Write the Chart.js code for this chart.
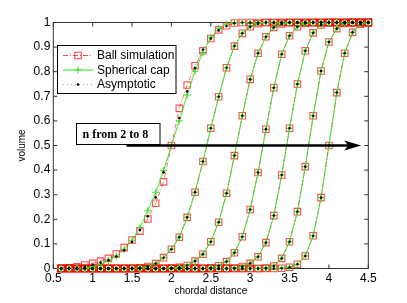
<!DOCTYPE html>
<html>
<head>
<meta charset="utf-8">
<script src="https://cdn.jsdelivr.net/npm/chart.js@4.4.0/dist/chart.umd.min.js"></script>
<style>
  html, body { margin: 0; padding: 0; background: #fff; }
</style>
</head>
<body>
<canvas id="chart" width="407" height="303"></canvas>
<script>
// chordal distance samples
const chordal = [0.6,0.7,0.8,0.9,1.0,1.1,1.2,1.3,1.4,1.5,1.6,1.7,1.8,1.9,2.0,2.1,2.2,2.3,2.4,2.5,
                 2.6,2.7,2.8,2.9,3.0,3.1,3.2,3.3,3.4,3.5,3.6,3.7,3.8,3.9,4.0,4.1,4.2,4.3,4.4,4.5];

// n = 2 : the three models differ a bit
const ball2 = [0.001,0.003,0.007,0.014,0.021,0.03,0.041,0.059,0.085,0.116,0.152,0.201,0.265,0.352,0.5,0.651,0.746,0.824,0.885,0.935,
               0.97,0.987,0.998,1,1,1,1,1,1,1,1,1,1,1,1,1,1,1,1,1];
const cap2  = [0,0,0,0.002,0.007,0.018,0.032,0.05,0.078,0.115,0.167,0.235,0.31,0.398,0.5,0.6,0.705,0.802,0.878,0.94,
               0.976,0.994,1,1,1,1,1,1,1,1,1,1,1,1,1,1,1,1,1,1];
const asym2 = [0,0.001,0.003,0.008,0.015,0.024,0.034,0.049,0.074,0.108,0.156,0.212,0.289,0.391,0.5,0.612,0.72,0.815,0.89,0.935,
               0.968,0.986,0.997,1,1,1,1,1,1,1,1,1,1,1,1,1,1,1,1,1];

// n = 3..8 : the three models sit on top of each other
const vol3 = [0,0,0,0,0,0,0,0,0,0,0.003,0.008,0.02,0.044,0.078,0.127,0.208,0.31,0.435,0.57,
              0.698,0.816,0.904,0.956,0.983,0.995,1,1,1,1,1,1,1,1,1,1,1,1,1,1];
const vol4 = [0,0,0,0,0,0,0,0,0,0,0,0,0,0,0.002,0.005,0.012,0.03,0.058,0.109,
              0.188,0.306,0.459,0.621,0.769,0.875,0.942,0.98,0.994,1,1,1,1,1,1,1,1,1,1,1];
const vol5 = [0,0,0,0,0,0,0,0,0,0,0,0,0,0,0,0,0,0,0,0.003,
              0.011,0.028,0.064,0.129,0.24,0.39,0.566,0.735,0.871,0.946,0.983,0.996,1,1,1,1,1,1,1,1];
const vol6 = [0,0,0,0,0,0,0,0,0,0,0,0,0,0,0,0,0,0,0,0,
              0,0,0.002,0.008,0.021,0.048,0.105,0.215,0.38,0.57,0.75,0.885,0.958,0.99,1,1,1,1,1,1];
const vol7 = [0,0,0,0,0,0,0,0,0,0,0,0,0,0,0,0,0,0,0,0,
              0,0,0,0,0,0,0.002,0.01,0.041,0.109,0.231,0.414,0.621,0.803,0.921,0.975,0.996,1,1,1];
const vol8 = [0,0,0,0,0,0,0,0,0,0,0,0,0,0,0,0,0,0,0,0,
              0,0,0,0,0,0,0,0,0.001,0.005,0.017,0.051,0.133,0.288,0.5,0.715,0.875,0.96,0.993,1];

const xTicks = [0.5,1,1.5,2,2.5,3,3.5,4,4.5];
const xTickLabels = ['0.5','1','1.5','2','2.5','3','3.5','4','4.5'];
const yTicks = [0,0.1,0.2,0.3,0.4,0.5,0.6,0.7,0.8,0.9,1];
const yTickLabels = ['0','0.1','0.2','0.3','0.4','0.5','0.6','0.7','0.8','0.9','1'];

const legendNames = ['Ball simulation', 'Spherical cap', 'Asymptotic'];

// [ball, cap, asymptotic] for each n
const curves = [
  [ball2, cap2, asym2],
  [vol3, vol3, vol3],
  [vol4, vol4, vol4],
  [vol5, vol5, vol5],
  [vol6, vol6, vol6],
  [vol7, vol7, vol7],
  [vol8, vol8, vol8]
];

const styles = [
  { borderColor: 'rgba(255,0,0,0.8)', borderWidth: 0.7, borderDash: [5, 2, 1, 2], pointStyle: 'rect', pointRadius: 4.6,
    pointBorderColor: 'rgba(255,0,0,0.7)', pointBackgroundColor: 'rgba(0,0,0,0)', pointBorderWidth: 1.1, order: 3 },
  { borderColor: '#33ee22', borderWidth: 0.9, pointStyle: 'cross', pointRadius: 3.5,
    pointBorderColor: '#33dd22', pointBackgroundColor: '#33dd22', pointBorderWidth: 1, order: 2 },
  { borderColor: 'rgba(0,0,0,0.55)', borderWidth: 0.5, borderDash: [1, 3], pointStyle: 'circle', pointRadius: 1.3,
    pointBorderColor: '#000', pointBackgroundColor: '#000', pointBorderWidth: 0, order: 1 }
];

const datasets = [];
curves.forEach(set => {
  set.forEach((vals, k) => {
    datasets.push(Object.assign({
      label: legendNames[k],
      data: chordal.map((c, i) => ({ x: c, y: vals[i] })),
      fill: false,
      tension: 0,
      clip: false
    }, styles[k]));
  });
});

function marker(ctx, kind, x, y) {
  ctx.save();
  if (kind === 0) {
    ctx.strokeStyle = 'rgba(255,0,0,0.7)'; ctx.lineWidth = 1.1;
    ctx.strokeRect(x - 3.25, y - 3.25, 6.5, 6.5);
  } else if (kind === 1) {
    ctx.strokeStyle = '#33dd22'; ctx.lineWidth = 1;
    ctx.beginPath();
    ctx.moveTo(x - 3.5, y); ctx.lineTo(x + 3.5, y);
    ctx.moveTo(x, y - 3.5); ctx.lineTo(x, y + 3.5);
    ctx.stroke();
  } else {
    ctx.fillStyle = '#000';
    ctx.beginPath(); ctx.arc(x, y, 1.3, 0, Math.PI * 2); ctx.fill();
  }
  ctx.restore();
}

const decor = {
  id: 'decor',
  beforeDatasetsDraw(chart) {
    const { ctx, chartArea: a, scales } = chart;
    ctx.save();
    ctx.strokeStyle = '#333';
    ctx.lineWidth = 1;
    ctx.strokeRect(a.left, a.top, a.right - a.left, a.bottom - a.top);
    ctx.beginPath();
    scales.x.ticks.forEach(t => {
      const px = scales.x.getPixelForValue(t.value);
      ctx.moveTo(px, a.bottom); ctx.lineTo(px, a.bottom - 4);
      ctx.moveTo(px, a.top); ctx.lineTo(px, a.top + 4);
    });
    scales.y.ticks.forEach(t => {
      const py = scales.y.getPixelForValue(t.value);
      ctx.moveTo(a.left, py); ctx.lineTo(a.left + 4, py);
      ctx.moveTo(a.right, py); ctx.lineTo(a.right - 4, py);
    });
    ctx.stroke();
    ctx.restore();
  },
  afterDatasetsDraw(chart) {
    const { ctx, scales } = chart;
    ctx.save();
    // arrow
    const y0 = scales.y.getPixelForValue(0.5);
    const x0 = scales.x.getPixelForValue(1.43);
    const x1 = scales.x.getPixelForValue(4.41);
    ctx.strokeStyle = '#000';
    ctx.lineWidth = 2.6;
    ctx.beginPath();
    ctx.moveTo(x0, y0); ctx.lineTo(x1 - 12, y0);
    ctx.stroke();
    ctx.fillStyle = '#000';
    ctx.beginPath();
    ctx.moveTo(x1, y0);
    ctx.lineTo(x1 - 17, y0 - 5);
    ctx.lineTo(x1 - 13, y0);
    ctx.lineTo(x1 - 17, y0 + 5);
    ctx.closePath();
    ctx.fill();

    // text box
    ctx.fillStyle = '#fff';
    ctx.fillRect(76.5, 123.5, 83.5, 21);
    ctx.strokeStyle = '#000';
    ctx.lineWidth = 1;
    ctx.strokeRect(76.5, 123.5, 83.5, 21);
    ctx.fillStyle = '#000';
    ctx.font = 'bold 12px "Liberation Serif", "Times New Roman", serif';
    ctx.textBaseline = 'middle';
    ctx.textAlign = 'left';
    ctx.fillText('n from 2 to 8', 82.5, 134.5);

    // legend
    ctx.fillStyle = '#fff';
    ctx.fillRect(57.5, 45.5, 118.5, 48);
    ctx.strokeRect(57.5, 45.5, 118.5, 48);
    const rows = [55.5, 70, 84.5];
    rows.forEach((ry, k) => {
      ctx.save();
      ctx.strokeStyle = styles[k].borderColor;
      ctx.lineWidth = styles[k].borderWidth + 0.2;
      ctx.setLineDash(styles[k].borderDash || []);
      ctx.beginPath();
      ctx.moveTo(63, ry); ctx.lineTo(93, ry);
      ctx.stroke();
      ctx.restore();
      marker(ctx, k, 78, ry);
      ctx.fillStyle = '#000';
      ctx.font = '12px "Liberation Sans", Arial, sans-serif';
      ctx.fillText(legendNames[k], 97, ry + 0.5);
    });
    ctx.restore();
  }
};

Chart.defaults.font.family = '"Liberation Sans", Arial, sans-serif';
Chart.defaults.color = '#000';

new Chart(document.getElementById('chart'), {
  type: 'line',
  data: { datasets: datasets },
  options: {
    responsive: false,
    animation: false,
    events: [],
    devicePixelRatio: 1,
    layout: { padding: { top: 22.5, right: 38.7, left: 0, bottom: 0 } },
    plugins: {
      legend: { display: false },
      tooltip: { enabled: false }
    },
    scales: {
      x: {
        type: 'linear',
        min: 0.5,
        max: 4.5,
        afterBuildTicks: s => { s.ticks = xTicks.map(v => ({ value: v })); },
        afterFit: s => { s.height = 34.5; },
        ticks: {
          callback: (v, i) => xTickLabels[i],
          font: { size: 12 },
          color: '#000',
          padding: 3,
          maxRotation: 0,
          autoSkip: false
        },
        grid: { display: false, drawTicks: false },
        border: { display: false },
        title: {
          display: true,
          text: 'chordal distance',
          font: { size: 10 },
          color: '#000',
          padding: { top: 0, bottom: 6 }
        }
      },
      y: {
        type: 'linear',
        min: 0,
        max: 1,
        afterBuildTicks: s => { s.ticks = yTicks.map(v => ({ value: v })); },
        afterFit: s => { s.width = 53.3; },
        ticks: {
          callback: (v, i) => yTickLabels[i],
          font: { size: 12 },
          color: '#000',
          padding: 3,
          autoSkip: false
        },
        grid: { display: false, drawTicks: false },
        border: { display: false },
        title: {
          display: true,
          text: 'volume',
          font: { size: 10 },
          color: '#000',
          padding: { top: 16, bottom: 0 }
        }
      }
    }
  },
  plugins: [decor]
});
</script>
</body>
</html>
